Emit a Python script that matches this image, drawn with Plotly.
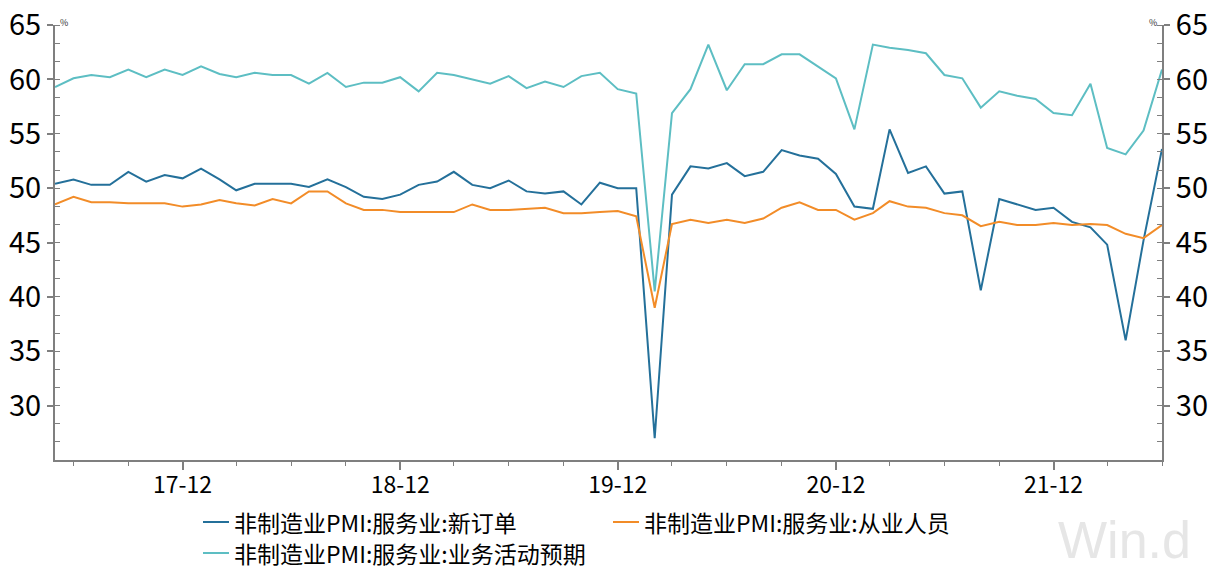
import pandas as pd
import plotly.graph_objects as go

months = pd.date_range("2017-05-01", periods=62, freq="MS")

new_orders = [50.4, 50.8, 50.3, 50.3, 51.5, 50.6, 51.2, 50.9, 51.8, 50.8,
              49.8, 50.4, 50.4, 50.4, 50.1, 50.8, 50.1, 49.2, 49.0, 49.4,
              50.3, 50.6, 51.5, 50.3, 50.0, 50.7, 49.7, 49.5, 49.7, 48.5,
              50.5, 50.0, 50.0, 27.0, 49.4, 52.0, 51.8, 52.3, 51.1, 51.5,
              53.5, 53.0, 52.7, 51.3, 48.3, 48.1, 55.4, 51.4, 52.0, 49.5,
              49.7, 40.6, 49.0, 48.5, 48.0, 48.2, 46.9, 46.4, 44.8, 36.0,
              45.2, 53.6]

employment = [48.5, 49.2, 48.7, 48.7, 48.6, 48.6, 48.6, 48.3, 48.5, 48.9,
              48.6, 48.4, 49.0, 48.6, 49.7, 49.7, 48.6, 48.0, 48.0, 47.8,
              47.8, 47.8, 47.8, 48.5, 48.0, 48.0, 48.1, 48.2, 47.7, 47.7,
              47.8, 47.9, 47.4, 39.0, 46.7, 47.1, 46.8, 47.1, 46.8, 47.2,
              48.2, 48.7, 48.0, 48.0, 47.1, 47.7, 48.8, 48.3, 48.2, 47.7,
              47.5, 46.5, 46.9, 46.6, 46.6, 46.8, 46.6, 46.7, 46.6, 45.8,
              45.4, 46.6]

expectations = [59.3, 60.1, 60.4, 60.2, 60.9, 60.2, 60.9, 60.4, 61.2, 60.5,
                60.2, 60.6, 60.4, 60.4, 59.6, 60.6, 59.3, 59.7, 59.7, 60.2,
                58.9, 60.6, 60.4, 60.0, 59.6, 60.3, 59.2, 59.8, 59.3, 60.3,
                60.6, 59.1, 58.7, 40.5, 56.9, 59.1, 63.2, 59.0, 61.4, 61.4,
                62.3, 62.3, 61.2, 60.1, 55.4, 63.2, 62.9, 62.7, 62.4, 60.4,
                60.1, 57.4, 58.9, 58.5, 58.2, 56.9, 56.7, 59.6, 53.7, 53.1,
                55.3, 60.9]

series_names = ["非制造业PMI:服务业:新订单", "非制造业PMI:服务业:从业人员",
                "非制造业PMI:服务业:业务活动预期"]
colors = ["#24709A", "#F28C28", "#5DBEC3"]

x_tick_vals = ["2017-12-01", "2018-12-01", "2019-12-01", "2020-12-01", "2021-12-01"]
x_tick_text = ["17-12", "18-12", "19-12", "20-12", "21-12"]
x_minor_vals = [d.strftime("%Y-%m-%d") for d in pd.date_range("2017-06-01", "2022-06-01", freq="3MS")]
y_tick_vals = [30, 35, 40, 45, 50, 55, 60, 65]

FONT = "Noto Sans CJK SC"
AXC = "#7f7f7f"

fig = go.Figure()
for name, vals, col in zip(series_names, [new_orders, employment, expectations], colors):
    fig.add_trace(go.Scatter(x=months, y=vals, mode="lines", name=name,
                             line=dict(color=col, width=2), showlegend=False))

yaxis_common = dict(
    range=[25, 65], tickmode="array", tickvals=y_tick_vals, automargin=False,
    ticks="outside", ticklen=6, tickwidth=1.5, tickcolor=AXC,
    showline=True, linecolor=AXC, linewidth=2, showgrid=False, zeroline=False,
    tickfont=dict(family=FONT, size=29, color="#000000"),
    minor=dict(tickmode="linear", tick0=25, dtick=5/3, ticks="inside",
               ticklen=5, tickwidth=1.2, tickcolor=AXC, showgrid=False),
)

fig.update_layout(
    width=1211, height=571,
    margin=dict(l=55, r=49, t=25, b=111),
    paper_bgcolor="white", plot_bgcolor="white",
    font=dict(family=FONT),
    xaxis=dict(
        type="date", range=["2017-05-01", "2022-06-01"], automargin=False,
        tickmode="array", tickvals=x_tick_vals, ticktext=x_tick_text,
        ticks="outside", ticklen=8, tickwidth=1.5, tickcolor=AXC,
        ticklabelstandoff=-5,
        showline=True, linecolor=AXC, linewidth=2, showgrid=False, zeroline=False,
        tickfont=dict(family=FONT, size=23, color="#000000"),
        minor=dict(tickmode="array", tickvals=x_minor_vals, ticks="outside",
                   ticklen=4, tickwidth=1.2, tickcolor=AXC, showgrid=False),
    ),
    yaxis=dict(side="left", **yaxis_common),
    yaxis2=dict(side="right", overlaying="y", anchor="x", matches="y", **yaxis_common),
)

# invisible helper so that right axis is rendered
fig.add_trace(go.Scatter(x=[months[0]], y=[None], yaxis="y2", showlegend=False,
                         hoverinfo="skip", mode="lines"))

W0, W1 = 55, 1162
H0, H1 = 460, 25


def px(xp):
    return (xp - W0) / (W1 - W0)


def py(yp):
    return (H0 - yp) / (H0 - H1)


# percent unit labels
fig.add_annotation(x=px(58), y=py(23), xref="paper", yref="paper", text="%",
                   showarrow=False, xanchor="left", yanchor="middle",
                   font=dict(family=FONT, size=9, color="#333333"))
fig.add_annotation(x=px(1159), y=py(23), xref="paper", yref="paper", text="%",
                   showarrow=False, xanchor="right", yanchor="middle",
                   font=dict(family=FONT, size=9, color="#333333"))

# custom legend
legend_items = [(203, 522, 0), (613, 522, 1), (203, 553, 2)]
for lx, ly, i in legend_items:
    fig.add_shape(type="line", xref="paper", yref="paper",
                  x0=px(lx), x1=px(lx + 26), y0=py(ly), y1=py(ly),
                  line=dict(color=colors[i], width=2))
    fig.add_annotation(x=px(lx + 29), y=py(ly), xref="paper", yref="paper",
                       text=series_names[i], showarrow=False,
                       xanchor="left", yanchor="middle",
                       font=dict(family=FONT, size=23, color="#000000"))

# watermark
fig.add_annotation(x=px(1124), y=py(540), xref="paper", yref="paper", text="Win.d",
                   showarrow=False, xanchor="center", yanchor="middle",
                   font=dict(family="Liberation Sans", size=52, color="#e6e6e6"))

fig.write_html("out.html", config={"displayModeBar": False},
               post_script="document.body.style.margin='0';document.body.style.overflow='hidden';")
